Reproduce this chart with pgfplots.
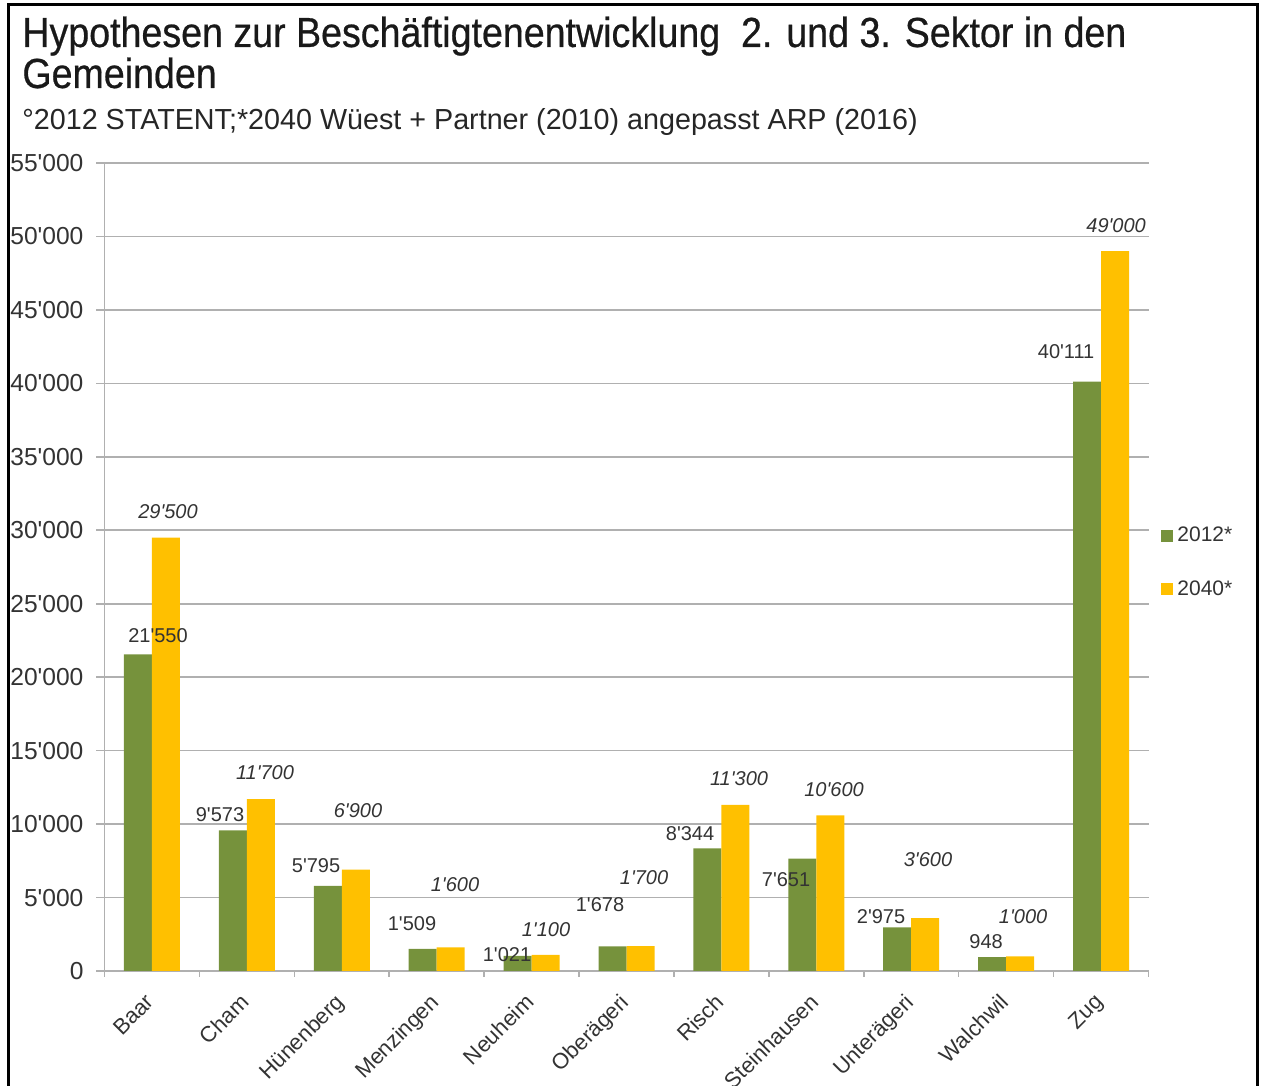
\documentclass[border=0pt]{standalone}
\usepackage{fontspec}
\setmainfont{Liberation Sans}
\newfontfamily\titlefont{Liberation Sans}[FakeBold=0.6]
\usepackage{graphicx}
\usepackage{pgfplots}
\pgfplotsset{compat=1.18}
\usepackage{pgfplotstable}
\definecolor{g12}{HTML}{76923C}
\definecolor{y40}{HTML}{FFC000}
\definecolor{txt}{HTML}{333333}
\definecolor{gridc}{HTML}{B0B0B0}
\newcommand\q{\textquotesingle}
\pgfplotstableread{
x v12 v40
0 21550 29500
1 9573 11700
2 5795 6900
3 1509 1600
4 1021 1100
5 1678 1700
6 8344 11300
7 7651 10600
8 2975 3600
9 948 1000
10 40111 49000
}\data
\begin{document}
\begin{tikzpicture}
\useasboundingbox (0,0) rectangle (632.5pt,543pt);
\draw[line width=1.5pt] (4.2pt,-1pt) -- (4.2pt,540.8pt) -- (628.8pt,540.8pt) -- (628.8pt,-1pt);
\node[anchor=base west, inner sep=0, text=black!90] at (11pt,519.5pt) {\titlefont\fontsize{21}{25}\selectfont\scalebox{0.895}[1]{Hypothesen zur Beschäftigtenentwicklung\ \ 2. und 3. Sektor in den}};
\node[anchor=base west, inner sep=0, text=black!90] at (11pt,499pt) {\titlefont\fontsize{21}{25}\selectfont\scalebox{0.895}[1]{Gemeinden}};
\node[anchor=base west, inner sep=0, text=black!85] at (11pt,478pt) {\fontsize{14.5}{17}\selectfont\scalebox{0.99}[1]{°2012 STATENT;*2040 Wüest + Partner (2010) angepasst ARP (2016)}};
\begin{axis}[
  at={(52.25pt,57.5pt)}, anchor=south west,
  scale only axis, width=522pt, height=404pt,
  ybar=0pt, bar width=14pt,
  xmin=-0.5, xmax=10.5, ymin=0, ymax=55000,
  axis x line*=bottom, axis y line*=left,
  axis line style={gridc, line width=0.8pt},
  tick align=outside,
  xtick={0,...,10},
  xticklabels={Baar,Cham,Hünenberg,Menzingen,Neuheim,Oberägeri,Risch,Steinhausen,Unterägeri,Walchwil,Zug},
  xticklabel style={rotate=45, anchor=north east, font=\fontsize{11}{13}\selectfont, text=txt, xshift=-4pt, yshift=1.5pt},
  major x tick style={draw=none},
  minor xtick={-0.5,0.5,...,10.5},
  minor x tick style={draw=gridc, line width=0.8pt},
  minor tick length=3pt,
  ytick={0,5000,...,55000},
  major tick length=4pt,
  ytick style={draw=gridc, line width=0.8pt},
  yticklabel style={font=\fontsize{12.3}{14}\selectfont, text=txt, xshift=-3pt, /pgf/number format/.cd, fixed, 1000 sep={\q}},
  /pgf/number format/assume math mode=true,
  scaled y ticks=false,
  ymajorgrids, grid style={gridc, line width=0.8pt},
  clip=false,
  legend style={at={(1.012,0.555)}, anchor=north west, draw=none, fill=none,
    font=\fontsize{10.5}{12}\selectfont, text=txt, row sep=14pt, inner sep=0pt},
  legend cell align=left,
  legend image code/.code={\draw[#1,draw=none] (0pt,-3pt) rectangle (6pt,3pt);},
]
\addplot[fill=g12, draw=none] table[x=x, y=v12] {\data};
\addplot[fill=y40, draw=none] table[x=x, y=v40] {\data};
\legend{2012*,2040*}
\begin{scope}[every node/.style={font=\fontsize{10}{12}\selectfont, text=txt, inner sep=0}]
\node at (axis cs:0.064,22803) {21\q550};
\node at (axis cs:0.717,10619) {9\q573};
\node at (axis cs:1.729,7147) {5\q795};
\node at (axis cs:2.740,3199) {1\q509};
\node at (axis cs:3.741,1089) {1\q021};
\node at (axis cs:4.721,4493) {1\q678};
\node at (axis cs:5.670,9325) {8\q344};
\node at (axis cs:6.681,6194) {7\q651};
\node at (axis cs:7.682,3676) {2\q975};
\node at (axis cs:8.789,1974) {948};
\node at (axis cs:9.632,42134) {40\q111};
\node at (axis cs:0.169,31244) {\itshape 29\q500};
\node at (axis cs:1.191,13478) {\itshape 11\q700};
\node at (axis cs:2.171,10891) {\itshape 6\q900};
\node at (axis cs:3.193,5854) {\itshape 1\q600};
\node at (axis cs:4.152,2791) {\itshape 1\q100};
\node at (axis cs:5.185,6330) {\itshape 1\q700};
\node at (axis cs:6.186,13069) {\itshape 11\q300};
\node at (axis cs:7.187,12320) {\itshape 10\q600};
\node at (axis cs:8.177,7556) {\itshape 3\q600};
\node at (axis cs:9.179,3676) {\itshape 1\q000};
\node at (axis cs:10.159,50711) {\itshape 49\q000};
\end{scope}
\end{axis}
\end{tikzpicture}
\end{document}
